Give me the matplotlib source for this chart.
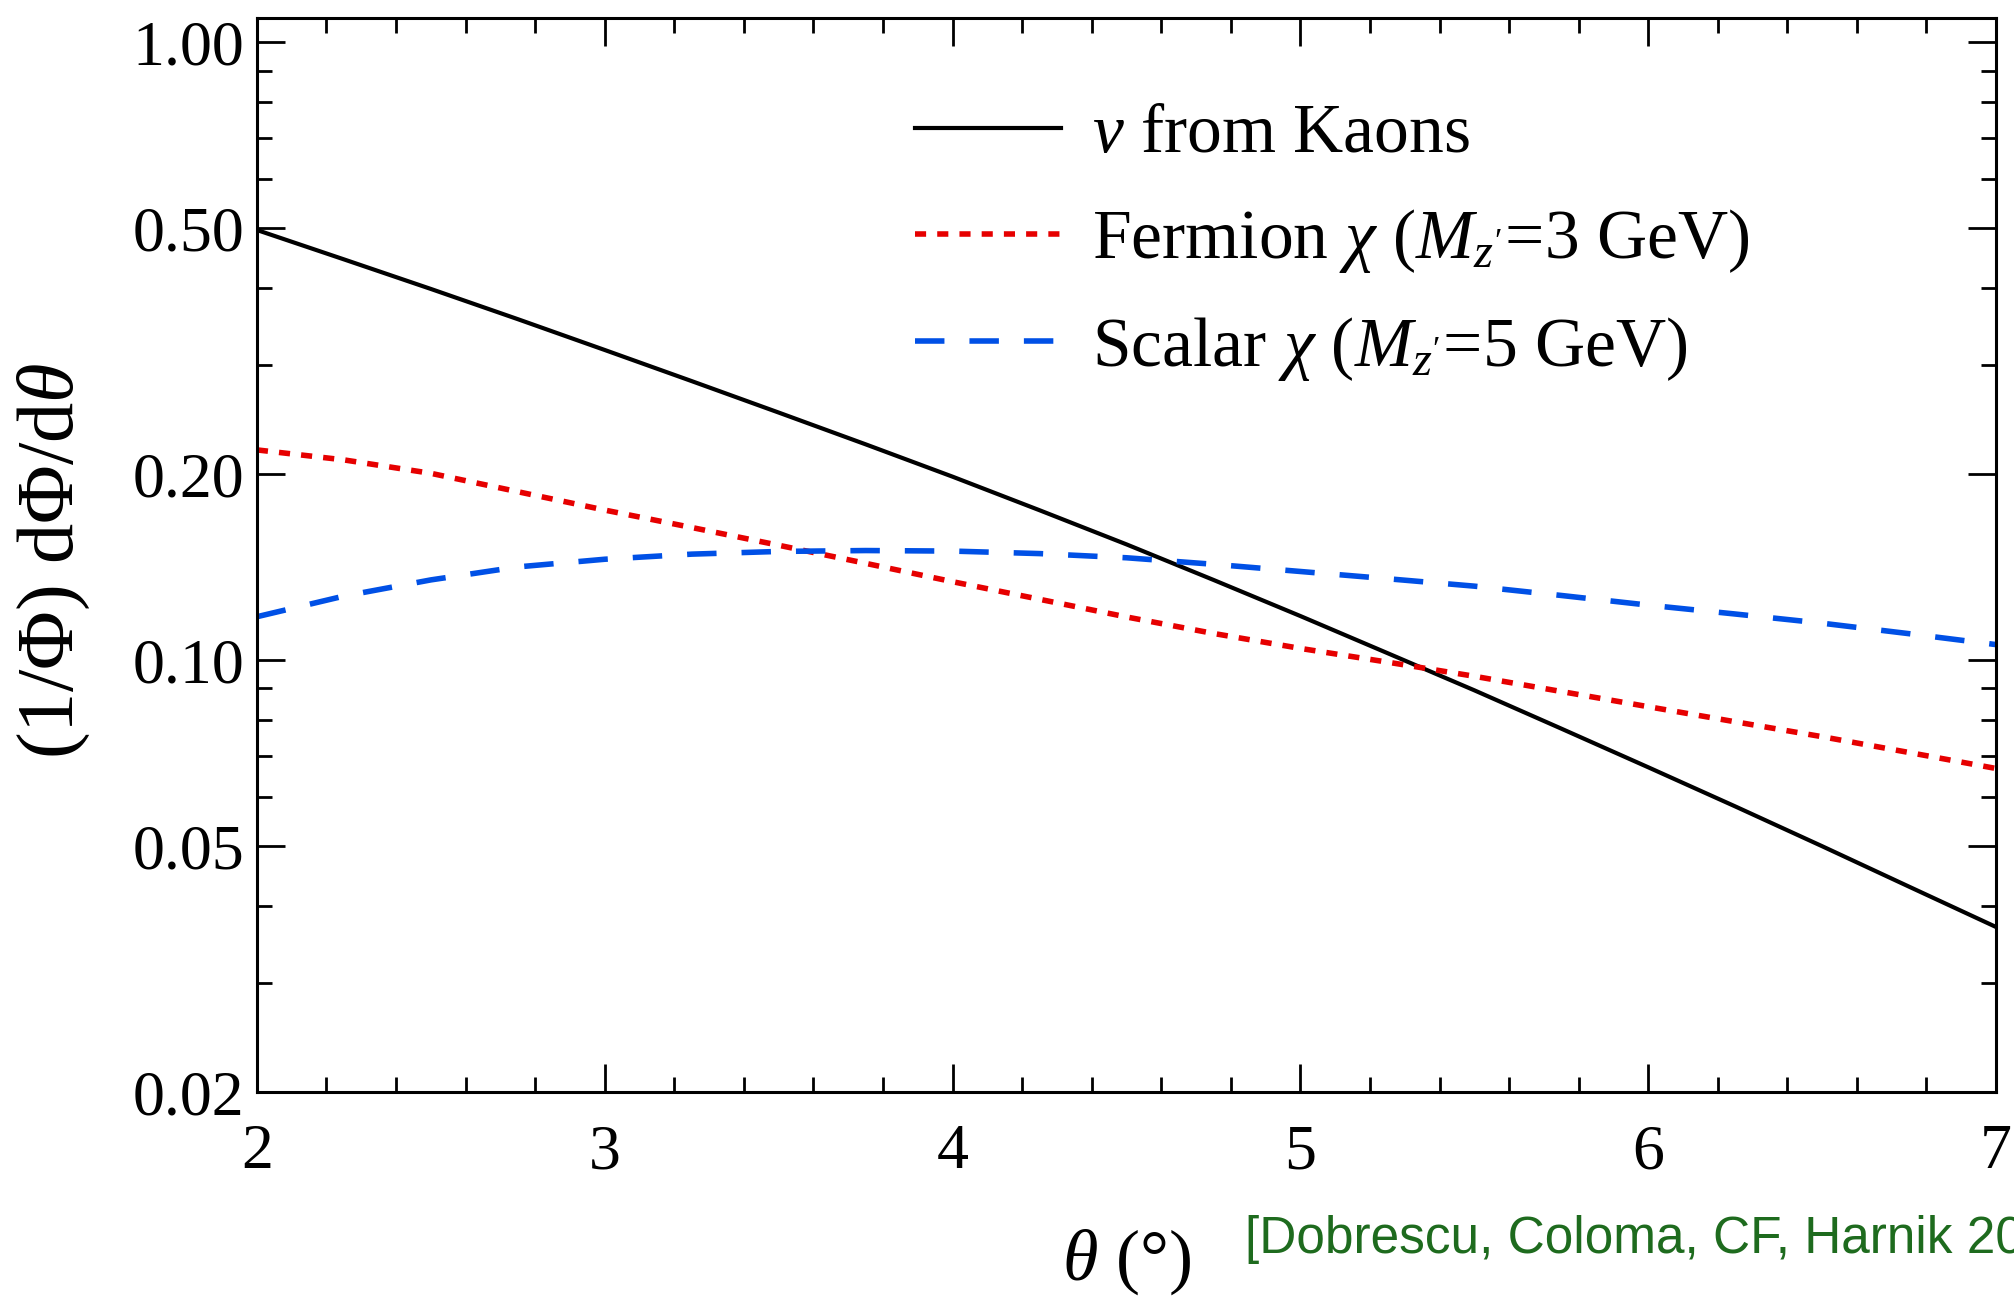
import matplotlib
matplotlib.use("Agg")
import matplotlib.pyplot as plt
from matplotlib.ticker import FixedLocator, LogLocator, NullFormatter, MultipleLocator

# angle (degrees) and normalised angular spectra
theta = [2.0, 2.25, 2.5, 2.75, 3.0, 3.25, 3.5, 3.75, 4.0, 4.25, 4.5,
         4.75, 5.0, 5.25, 5.5, 5.75, 6.0, 6.25, 6.5, 6.75, 7.0]
kaon = [0.497, 0.4455, 0.399, 0.3565, 0.3178, 0.2830, 0.2517, 0.2236, 0.1982, 0.1749, 0.154,
        0.1349, 0.1179, 0.1027, 0.0894, 0.0775, 0.0671, 0.0580, 0.0500, 0.0430, 0.0370]
fermion = [0.219, 0.211, 0.2007, 0.1874, 0.175, 0.164, 0.1535, 0.1435, 0.134, 0.1255, 0.1175,
           0.1105, 0.1045, 0.0993, 0.0942, 0.089, 0.0841, 0.0795, 0.0752, 0.0709, 0.0668]
scalar = [0.1176, 0.127, 0.1349, 0.1416, 0.1457, 0.1485, 0.150, 0.1505, 0.1502, 0.1488, 0.1465,
          0.1430, 0.1392, 0.1355, 0.1318, 0.1273, 0.1228, 0.1188, 0.1148, 0.1104, 0.106]

labels = [r"$\nu$ from Kaons",
          r"Fermion $\chi$ ($M_{z'}$=3 GeV)",
          r"Scalar $\chi$ ($M_{z'}$=5 GeV)"]
yticks = [0.02, 0.05, 0.10, 0.20, 0.50, 1.00]
xticks = [2, 3, 4, 5, 6, 7]

plt.rcParams['font.family'] = ['Liberation Serif', 'DejaVu Serif']
plt.rcParams['mathtext.fontset'] = 'custom'
plt.rcParams['mathtext.rm'] = 'Liberation Serif'
plt.rcParams['mathtext.it'] = 'Liberation Serif:italic'
plt.rcParams['mathtext.bf'] = 'Liberation Serif:bold'

fig = plt.figure(figsize=(20.15, 12.99), dpi=100)
ax = fig.add_axes([0.1275, 0.1593, 0.8631, 0.8268])

ax.plot(theta, kaon, color='black', lw=3.0, label=labels[0])
ax.plot(theta, fermion, color='#e60000', lw=4.0, dashes=(2, 2), label=labels[1])
ax.plot(theta, scalar, color='#0050e6', lw=4.0, dashes=(5.3, 4.5), label=labels[2])

ax.set_yscale('log')
ax.set_xlim(2, 7)
ax.set_ylim(0.02, 1.095)
ax.yaxis.set_major_locator(FixedLocator(yticks))
ax.yaxis.set_minor_locator(LogLocator(subs='all'))
ax.yaxis.set_minor_formatter(NullFormatter())
ax.set_yticklabels(["%.2f" % v for v in yticks])
ax.xaxis.set_major_locator(FixedLocator(xticks))
ax.xaxis.set_minor_locator(MultipleLocator(0.2))

ax.tick_params(which='both', direction='in', top=True, right=True, width=2.0)
ax.tick_params(which='major', length=20)
ax.tick_params(which='minor', length=11)
ax.tick_params(axis='y', which='major', labelsize=46, pad=9)
ax.tick_params(axis='x', which='major', labelsize=46, pad=23)
for s in ax.spines.values():
    s.set_linewidth(2.2)

ax.set_xlabel(r"$\theta$ (°)", fontsize=52)
ax.xaxis.set_label_coords(0.5, -0.126)
ax.set_ylabel(r"(1/$\Phi$) d$\Phi$/d$\theta$", fontsize=58)
ax.yaxis.set_label_coords(-0.095, 0.495)

ax.legend(loc='upper left', bbox_to_anchor=(0.3625, 0.946), frameon=False, fontsize=50,
          handlelength=2.1, handletextpad=0.45, labelspacing=0.57, borderaxespad=0)

fig.text(0.618, 0.046, "[Dobrescu, Coloma, CF, Harnik 2015]", color='#1e6b1e',
         fontsize=37, family='Liberation Sans', va='center', ha='left')

fig.savefig("out.png", dpi=100)
